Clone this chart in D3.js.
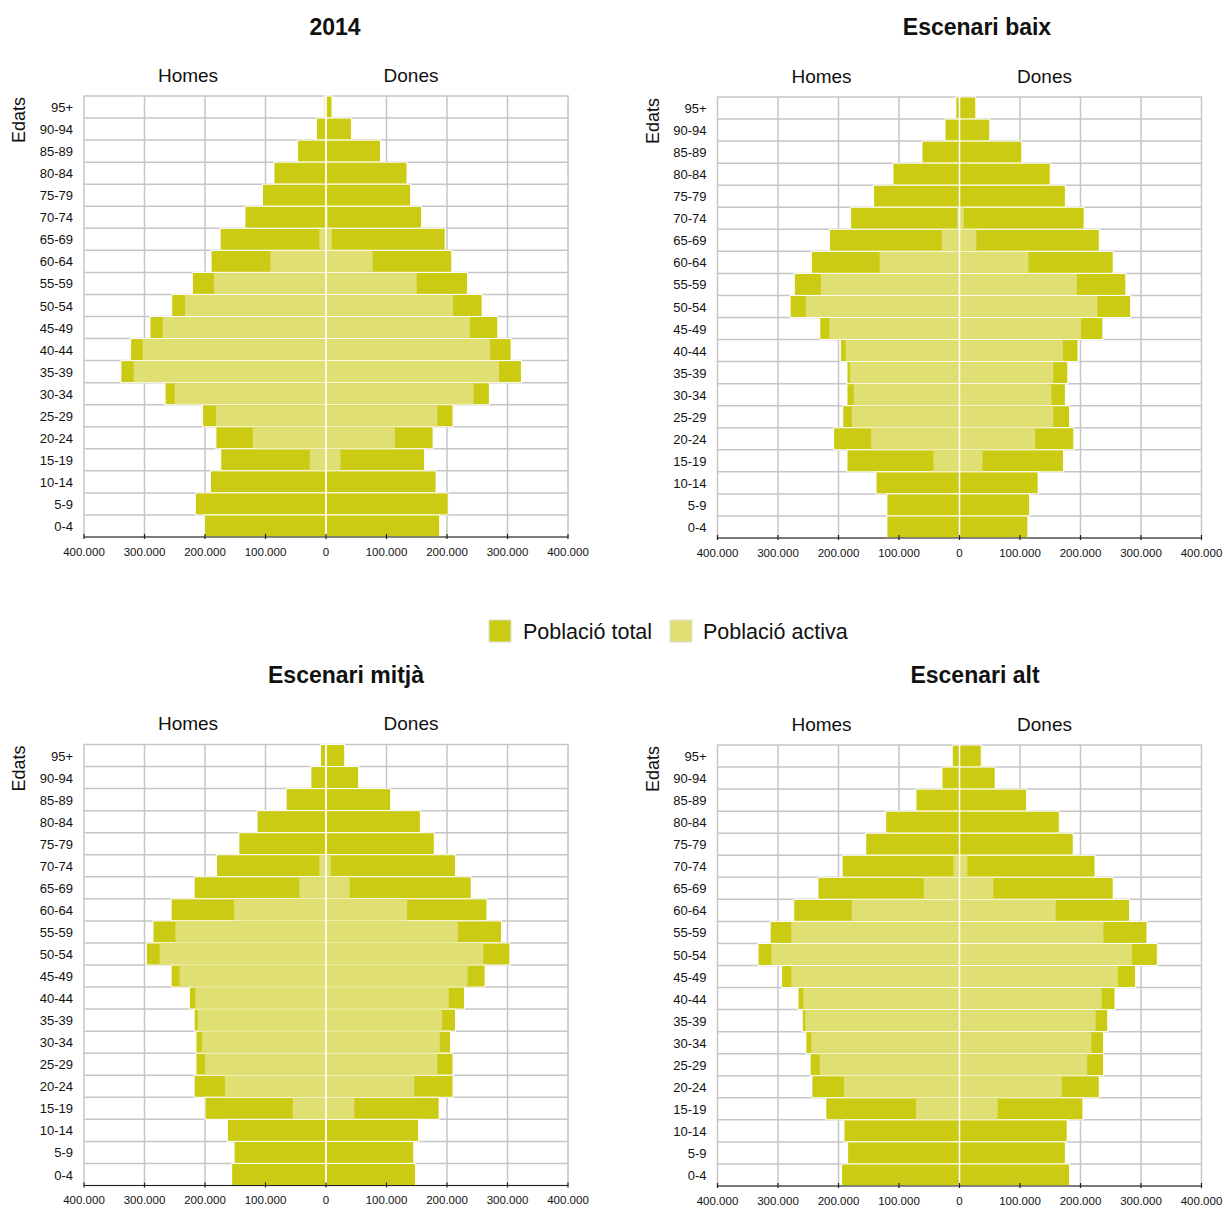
<!DOCTYPE html>
<html>
<head>
<meta charset="utf-8">
<script src="https://cdn.jsdelivr.net/npm/d3@7"></script>
<style>
  html, body { margin: 0; padding: 0; background: #fff; }
  svg { display: block; font-family: "Liberation Sans", Arial, Helvetica, sans-serif; }
</style>
</head>
<body>
<svg id="chart" width="1225" height="1207"></svg>
<script>
// ---- Data ----
const ages = ["95+","90-94","85-89","80-84","75-79","70-74","65-69","60-64","55-59","50-54","45-49","40-44","35-39","30-34","25-29","20-24","15-19","10-14","5-9","0-4"];
const xTicks = [-400000,-300000,-200000,-100000,0,100000,200000,300000,400000];
const seriesNames = ["Població total","Població activa"];
const panelTitles = ["2014","Escenari baix","Escenari mitjà","Escenari alt"];

const men2014Total   = [3000,16000,47000,86000,105000,134000,175000,190000,221000,255000,291000,323000,339000,266000,204000,182000,174000,191000,216000,201000];
const women2014Total = [10000,42000,90000,134000,140000,158000,197000,208000,234000,258000,284000,306000,323000,270000,210000,177000,163000,182000,202000,188000];
const men2014Active  = [0,0,0,0,0,2000,11000,92000,185000,233000,270000,303000,318000,250000,182000,121000,27000,0,0,0];
const women2014Active= [0,0,0,0,0,3000,9500,77000,150000,210000,238000,271000,286000,244000,184000,114000,24000,0,0,0];

const menBaixTotal   = [6000,24000,62000,110000,142000,180000,215000,245000,273000,280000,231000,197000,186000,186000,193000,208000,186000,138000,120000,120000];
const womenBaixTotal = [27000,50000,103000,150000,175000,206000,231000,254000,275000,283000,237000,196000,179000,175000,182000,189000,172000,130000,116000,113000];
const menBaixActive  = [0,0,0,0,0,4000,29000,132000,229000,254000,215000,188000,181000,175000,178000,146000,43000,0,0,0];
const womenBaixActive= [0,0,0,0,0,7000,28000,114000,194000,228000,201000,171000,155000,152000,155000,125000,38000,0,0,0];

const menMitjaTotal   = [9000,25000,66000,114000,144000,181000,218000,256000,286000,297000,256000,226000,218000,215000,215000,218000,200000,163000,152000,156000];
const womenMitjaTotal = [31000,54000,107000,156000,179000,214000,240000,266000,290000,304000,263000,229000,214000,206000,210000,210000,187000,153000,145000,148000];
const menMitjaActive  = [0,0,0,0,0,11000,44000,152000,249000,275000,242000,216000,212000,205000,200000,167000,55000,0,0,0];
const womenMitjaActive= [0,0,0,0,0,8000,39000,134000,218000,260000,234000,203000,192000,188000,184000,146000,47000,0,0,0];

const menAltTotal   = [12000,29000,72000,122000,155000,194000,234000,274000,313000,333000,294000,267000,260000,254000,247000,244000,221000,191000,185000,195000];
const womenAltTotal = [36000,59000,111000,165000,188000,224000,254000,281000,310000,327000,291000,257000,245000,238000,238000,231000,204000,178000,175000,182000];
const menAltActive  = [0,0,0,0,0,10000,59000,178000,278000,311000,278000,258000,255000,245000,231000,191000,72000,0,0,0];
const womenAltActive= [0,0,0,0,0,13000,56000,159000,238000,285000,262000,235000,225000,218000,211000,169000,63000,0,0,0];

// ---- Styles ----
const COL_TOTAL = "#cccb14";
const COL_ACTIVE = "#e0df73";
const GRID = "#c6c6c6";

const panels = [
  {title: panelTitles[0], left: 84,  top: 96,  titleX: 335, mt: men2014Total, wt: women2014Total, ma: men2014Active, wa: women2014Active},
  {title: panelTitles[1], left: 717.5, top: 97, titleX: 977, mt: menBaixTotal, wt: womenBaixTotal, ma: menBaixActive, wa: womenBaixActive},
  {title: panelTitles[2], left: 84,  top: 744.5, titleX: 346, mt: menMitjaTotal, wt: womenMitjaTotal, ma: menMitjaActive, wa: womenMitjaActive},
  {title: panelTitles[3], left: 717.5, top: 745, titleX: 975, mt: menAltTotal, wt: womenAltTotal, ma: menAltActive, wa: womenAltActive}
];
const PW = 484, PH = 441;

const loc = d3.formatLocale({decimal: ",", thousands: ".", grouping: [3], currency: ["", "€"]});
const fmt = loc.format(",");

const svg = d3.select("#chart");

panels.forEach((p, pi) => {
  const x = d3.scaleLinear().domain([-400000, 400000]).range([p.left, p.left + PW]);
  const y = d3.scaleBand().domain(ages).range([p.top, p.top + PH]).paddingInner(0).paddingOuter(0);
  const cx = x(0);
  const g = svg.append("g");

  // title
  const titleY = (pi < 2 ? 27 : 675);
  g.append("text").attr("x", p.titleX).attr("y", titleY).attr("dy", "0.35em")
    .attr("text-anchor", "middle").attr("font-size", 23).attr("font-weight", "bold").attr("fill", "#111")
    .text(p.title);

  // Homes / Dones
  const hdY = p.top - 21;
  g.append("text").attr("x", cx - 138).attr("y", hdY).attr("dy", "0.35em").attr("text-anchor", "middle")
    .attr("font-size", 19).attr("fill", "#111").text("Homes");
  g.append("text").attr("x", cx + 85).attr("y", hdY).attr("dy", "0.35em").attr("text-anchor", "middle")
    .attr("font-size", 19).attr("fill", "#111").text("Dones");

  // Edats
  g.append("text").attr("transform", `translate(${p.left - 59},${p.top + 1}) rotate(-90)`)
    .attr("text-anchor", "end").attr("font-size", 18).attr("fill", "#111").text("Edats");

  // plot frame & grid
  g.append("rect").attr("x", p.left).attr("y", p.top).attr("width", PW).attr("height", PH)
    .attr("fill", "#fff").attr("stroke", GRID).attr("stroke-width", 1.5);
  g.selectAll("line.vg").data(xTicks.slice(1, -1)).join("line")
    .attr("x1", d => x(d)).attr("x2", d => x(d)).attr("y1", p.top).attr("y2", p.top + PH)
    .attr("stroke", GRID).attr("stroke-width", 1.5);
  g.selectAll("line.hg").data(ages.slice(1)).join("line")
    .attr("x1", p.left).attr("x2", p.left + PW).attr("y1", d => y(d)).attr("y2", d => y(d))
    .attr("stroke", GRID).attr("stroke-width", 1.5);

  const bw = y.bandwidth();
  // total bars
  g.selectAll("rect.mt").data(ages).join("rect")
    .attr("x", (d, i) => x(-p.mt[i])).attr("width", (d, i) => cx - x(-p.mt[i]))
    .attr("y", d => y(d)).attr("height", bw)
    .attr("fill", COL_TOTAL).attr("stroke", "#fff").attr("stroke-width", 1);
  g.selectAll("rect.wt").data(ages).join("rect")
    .attr("x", cx).attr("width", (d, i) => x(p.wt[i]) - cx)
    .attr("y", d => y(d)).attr("height", bw)
    .attr("fill", COL_TOTAL).attr("stroke", "#fff").attr("stroke-width", 1);
  // active bars
  g.selectAll("rect.ma").data(ages).join("rect")
    .attr("x", (d, i) => x(-p.ma[i])).attr("width", (d, i) => Math.max(0, cx - x(-p.ma[i]) - 0.5))
    .attr("y", d => y(d) + 0.5).attr("height", bw - 1)
    .attr("fill", COL_ACTIVE);
  g.selectAll("rect.wa").data(ages).join("rect")
    .attr("x", cx + 0.5).attr("width", (d, i) => Math.max(0, x(p.wa[i]) - cx - 0.5))
    .attr("y", d => y(d) + 0.5).attr("height", bw - 1)
    .attr("fill", COL_ACTIVE);

  // zero line (white)
  g.append("line").attr("x1", cx).attr("x2", cx).attr("y1", p.top).attr("y2", p.top + PH)
    .attr("stroke", "#fff").attr("stroke-width", 1.5);

  // age labels
  g.selectAll("text.age").data(ages).join("text")
    .attr("x", p.left - 11).attr("y", d => y(d) + bw / 2 + 0.5).attr("dy", "0.35em")
    .attr("text-anchor", "end").attr("font-size", 13).attr("fill", "#111").text(d => d);

  // bottom axis
  const ax = g.append("g").attr("transform", `translate(0,${p.top + PH})`);
  ax.append("line").attr("x1", p.left).attr("x2", p.left + PW).attr("stroke", "#222").attr("stroke-width", 1.2);
  ax.selectAll("line.tk").data(xTicks).join("line")
    .attr("x1", d => x(d)).attr("x2", d => x(d)).attr("y1", -3).attr("y2", 2)
    .attr("stroke", "#222").attr("stroke-width", 1.2);
  ax.selectAll("text.tl").data(xTicks).join("text")
    .attr("x", d => x(d)).attr("y", 18.5).attr("text-anchor", "middle")
    .attr("font-size", 11.5).attr("fill", "#111").text(d => fmt(Math.abs(d)));
});

// legend
const leg = svg.append("g");
const legItems = [{name: seriesNames[0], color: COL_TOTAL, x: 489, tx: 523}, {name: seriesNames[1], color: COL_ACTIVE, x: 670, tx: 703}];
leg.selectAll("rect").data(legItems).join("rect")
  .attr("x", d => d.x).attr("y", 620).attr("width", 22).attr("height", 22)
  .attr("fill", d => d.color).attr("stroke", "#ddd").attr("stroke-width", 1);
leg.selectAll("text").data(legItems).join("text")
  .attr("x", d => d.tx).attr("y", 631).attr("dy", "0.35em")
  .attr("font-size", 21.5).attr("fill", "#111").text(d => d.name);
</script>
</body>
</html>
